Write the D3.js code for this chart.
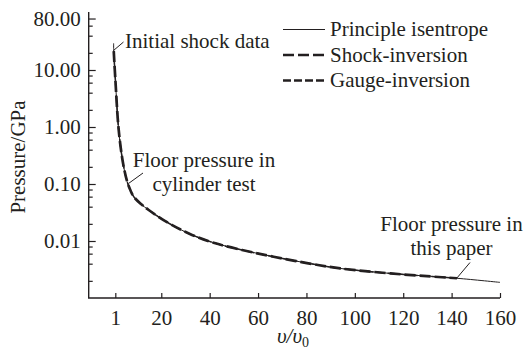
<!DOCTYPE html>
<html>
<head>
<meta charset="utf-8">
<script src="https://cdn.jsdelivr.net/npm/d3@7"></script>
<style>
  html, body { margin: 0; padding: 0; background: #fff; }
  svg { display: block; }
  text { font-family: "Liberation Serif", "Times New Roman", serif; fill: #231f20; }
</style>
</head>
<body>
<svg id="chart" width="525" height="352"></svg>
<script>
// ---- data ----
const isentropeV = [0.30, 0.35, 1.03, 2.4, 4.2, 5.9, 7.2, 8.6, 11.5, 14.8, 23.1, 32.7, 42.4, 53.4, 66.4, 80.2, 94, 114.7, 142.2, 160];
const isentropeP = [29.4, 21.5, 6.68, 0.886, 0.231, 0.110, 0.0785, 0.060, 0.045, 0.035, 0.0205, 0.0128, 0.0091, 0.00695, 0.0053, 0.0041, 0.0033, 0.0027, 0.00222, 0.00188];
const shockV = [0.35, 1.03, 2.4, 4.2, 5.9, 7.2, 8.6, 11.5, 14.8, 23.1, 32.7, 42.4, 53.4, 66.4, 80.2, 94, 114.7, 142.2];
const shockP = [21.5, 6.68, 0.886, 0.231, 0.110, 0.0785, 0.060, 0.045, 0.035, 0.0205, 0.0128, 0.0091, 0.00695, 0.0053, 0.0041, 0.0033, 0.0027, 0.00222];
const gaugeV = [0.35, 1.03, 2.4, 4.2, 5.9, 7.2, 8.6, 11.5, 14.8, 23.1, 32.7, 42.4, 53.4, 66.4, 80.2, 94, 114.7, 142.2];
const gaugeP = [21.5, 6.68, 0.886, 0.231, 0.110, 0.0785, 0.060, 0.045, 0.035, 0.0205, 0.0128, 0.0091, 0.00695, 0.0053, 0.0041, 0.0033, 0.0027, 0.00222];

const xTicks = [1, 20, 40, 60, 80, 100, 120, 140, 160];
const yTicks = [0.01, 0.1, 1, 10, 80];
const yTickLabels = ["0.01", "0.10", "1.00", "10.00", "80.00"];
const yMinorTicks = [0.002, 0.004, 0.006, 0.008, 0.02, 0.04, 0.06, 0.08, 0.2, 0.4, 0.6, 0.8, 2, 4, 6, 8, 20, 40, 60];
const seriesNames = ["Principle isentrope", "Shock-inversion", "Gauge-inversion"];

// ---- layout ----
const svg = d3.select("#chart");
const x = d3.scaleLinear().domain([-10, 160]).range([88.7, 500]);
const y = d3.scaleLog().domain([0.001, 100]).range([298, 13]);
const ink = "#231f20";

// axes
const gy = svg.append("g").attr("transform", `translate(${x.range()[0]},0)`);
gy.call(d3.axisLeft(y).tickValues(yTicks).tickSize(-7).tickPadding(8)
  .tickFormat((d, i) => yTickLabels[i]));
gy.select(".domain").remove();
gy.selectAll("line").attr("stroke", ink).attr("stroke-width", 1.2);
gy.selectAll("text").style("font-size", "21px").attr("fill", ink);

const gyMinor = svg.append("g").attr("transform", `translate(${x.range()[0]},0)`);
gyMinor.call(d3.axisLeft(y).tickValues(yMinorTicks).tickSize(-4).tickFormat(""));
gyMinor.select(".domain").remove();
gyMinor.selectAll("line").attr("stroke", ink).attr("stroke-width", 1.2);

const gx = svg.append("g").attr("transform", `translate(0,${y.range()[0]})`);
gx.call(d3.axisBottom(x).tickValues(xTicks).tickSize(-5).tickPadding(12).tickFormat(d3.format("d")));
gx.select(".domain").remove();
gx.selectAll("line").attr("stroke", ink).attr("stroke-width", 1.2);
gx.selectAll("text").style("font-size", "21px").attr("fill", ink);

// axis lines
svg.append("path")
  .attr("d", `M${x.range()[0]},12 L${x.range()[0]},${y.range()[0]} L${x.range()[1]},${y.range()[0]}`)
  .attr("fill", "none").attr("stroke", ink).attr("stroke-width", 1.4);

// axis titles
svg.append("text")
  .attr("transform", "translate(25,157) rotate(-90)")
  .attr("text-anchor", "middle").style("font-size", "21px").text("Pressure/GPa");

const xt = svg.append("text").attr("x", 293).attr("y", 343)
  .attr("text-anchor", "middle").style("font-size", "21px").style("font-style", "italic");
xt.append("tspan").text("υ/υ");
xt.append("tspan").attr("dy", 4).style("font-size", "14px").style("font-style", "normal").text("0");

// lines
const line = d3.line().x(d => x(d[0])).y(d => y(d[1])).curve(d3.curveCatmullRom.alpha(0.5));
const isoData = isentropeV.map((v, i) => [v, isentropeP[i]]);
const shockData = shockV.map((v, i) => [v, shockP[i]]);
const gaugeData = gaugeV.map((v, i) => [v, gaugeP[i]]);

svg.append("path").datum(isoData).attr("d", line)
  .attr("fill", "none").attr("stroke", ink).attr("stroke-width", 1);
svg.append("path").datum(gaugeData).attr("d", line)
  .attr("fill", "none").attr("stroke", ink).attr("stroke-width", 1.5).attr("stroke-dasharray", "8,3");
svg.append("path").datum(shockData).attr("d", line)
  .attr("fill", "none").attr("stroke", ink).attr("stroke-width", 2.7).attr("stroke-dasharray", "11,4");

// legend
const styles = [
  { w: 1, dash: null },
  { w: 2.7, dash: "11,4" },
  { w: 2.7, dash: "8,3" }
];
seriesNames.forEach((name, i) => {
  const ly = 29.5 + i * 25.5;
  const l = svg.append("line").attr("x1", 283).attr("x2", 325).attr("y1", ly).attr("y2", ly)
    .attr("stroke", ink).attr("stroke-width", styles[i].w);
  if (styles[i].dash) l.attr("stroke-dasharray", styles[i].dash);
  svg.append("text").attr("x", 330).attr("y", ly + 6.5).style("font-size", "21px").text(name);
});

// annotations
function leader(x1, y1, x2, y2) {
  svg.append("line").attr("x1", x1).attr("y1", y1).attr("x2", x2).attr("y2", y2)
    .attr("stroke", ink).attr("stroke-width", 1);
}
svg.append("text").attr("x", 125).attr("y", 48).style("font-size", "21px").text("Initial shock data");
leader(113.5, 50.5, 123.5, 42);

svg.append("text").attr("x", 204).attr("y", 167).attr("text-anchor", "middle").style("font-size", "21px").text("Floor pressure in");
svg.append("text").attr("x", 204).attr("y", 191).attr("text-anchor", "middle").style("font-size", "21px").text("cylinder test");
leader(128.5, 183.5, 143, 173);

svg.append("text").attr("x", 451.5).attr("y", 231).attr("text-anchor", "middle").style("font-size", "21px").text("Floor pressure in");
svg.append("text").attr("x", 451.5).attr("y", 255).attr("text-anchor", "middle").style("font-size", "21px").text("this paper");
leader(456.5, 278.5, 470, 262.5);
</script>
</body>
</html>
